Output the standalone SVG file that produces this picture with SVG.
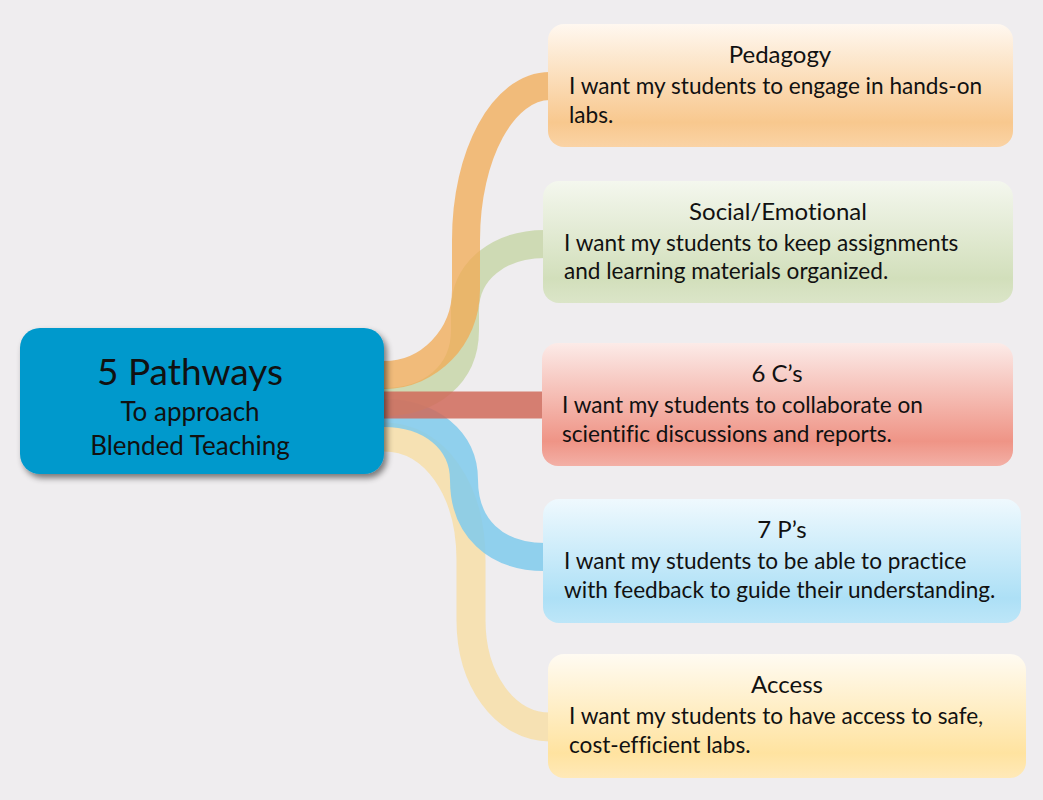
<svg xmlns="http://www.w3.org/2000/svg" width="1043" height="800" viewBox="0 0 1043 800">
<defs>
<style>
.band{fill:none;stroke-linecap:butt}
.t{font-family:Lato,"Liberation Sans",sans-serif;fill:#111;font-variant-ligatures:none}
.title{font-size:24px;text-anchor:middle}
.body{font-size:22.6px}
</style>
<linearGradient id="gO" x1="0" y1="0" x2="0" y2="1"><stop offset="0" stop-color="#fff8f0"/><stop offset="0.8" stop-color="#f8c88e"/><stop offset="1" stop-color="#fad3a5"/></linearGradient>
<linearGradient id="gG" x1="0" y1="0" x2="0" y2="1"><stop offset="0" stop-color="#f4f7ee"/><stop offset="0.8" stop-color="#d2dfbb"/><stop offset="1" stop-color="#dbe5c8"/></linearGradient>
<linearGradient id="gR" x1="0" y1="0" x2="0" y2="1"><stop offset="0" stop-color="#fcebe8"/><stop offset="0.8" stop-color="#ef9486"/><stop offset="1" stop-color="#f3b0a6"/></linearGradient>
<linearGradient id="gB" x1="0" y1="0" x2="0" y2="1"><stop offset="0" stop-color="#eff9fe"/><stop offset="0.8" stop-color="#ade0f6"/><stop offset="1" stop-color="#bde6f8"/></linearGradient>
<linearGradient id="gY" x1="0" y1="0" x2="0" y2="1"><stop offset="0" stop-color="#fffbf2"/><stop offset="0.8" stop-color="#ffe3a0"/><stop offset="1" stop-color="#ffe9b8"/></linearGradient>
<filter id="sh" x="-10%" y="-10%" width="125%" height="130%"><feGaussianBlur in="SourceAlpha" stdDeviation="3"/><feOffset dx="3" dy="4" result="b"/><feComponentTransfer><feFuncA type="linear" slope="0.5"/></feComponentTransfer><feMerge><feMergeNode/><feMergeNode in="SourceGraphic"/></feMerge></filter>
</defs>
<rect width="1043" height="800" fill="#efedef"/>
<g id="connectors">
<path class="band" d="M384 437 C435 437 471 490 471 560 L471 620 C471 680 505 727 550 727" stroke="#fad98a" stroke-opacity="0.6" stroke-width="29"/>
<path class="band" d="M384 413 C430 413 464 440 464 480 C464 527 495 557 545 557" stroke="#7fcaec" stroke-opacity="0.85" stroke-width="28"/>
<path class="band" d="M384 402 C430 402 465 375 465 330 L465 310 C465 270 500 244 545 244" stroke="#c3d3a0" stroke-opacity="0.75" stroke-width="28"/>
<path class="band" d="M384 375 C429 375 466 337 466 290 L466 240 C466 155 503 86 550 86" stroke="#f2a953" stroke-opacity="0.75" stroke-width="28"/>
<path class="band" d="M384 405 L544 405" stroke="#d06a5a" stroke-opacity="0.85" stroke-width="27"/>
</g>
<g id="center">
<rect x="20" y="328" width="364" height="146" rx="20" fill="#0099cc" filter="url(#sh)"/>
<text class="t" x="190" y="385" font-size="37" text-anchor="middle">5 Pathways</text>
<text class="t" x="190" y="421" font-size="26" text-anchor="middle">To approach</text>
<text class="t" x="190" y="455" font-size="26" text-anchor="middle">Blended Teaching</text>
</g>
<g id="pedagogy">
<rect x="548" y="24" width="465" height="123" rx="16" fill="url(#gO)"/>
<text class="t title" x="780" y="63">Pedagogy</text>
<text class="t body" x="569" y="94">I want my students to engage in hands-on</text>
<text class="t body" x="569" y="123">labs.</text>
</g>
<g id="social">
<rect x="543" y="181" width="470" height="122" rx="16" fill="url(#gG)"/>
<text class="t title" x="778" y="220">Social/Emotional</text>
<text class="t body" x="564" y="251">I want my students to keep assignments</text>
<text class="t body" x="564" y="279">and learning materials organized.</text>
</g>
<g id="sixcs">
<rect x="542" y="343" width="471" height="123" rx="16" fill="url(#gR)"/>
<text class="t title" x="777" y="382">6 C’s</text>
<text class="t body" x="562" y="413">I want my students to collaborate on</text>
<text class="t body" x="562" y="442">scientific discussions and reports.</text>
</g>
<g id="sevenps">
<rect x="543" y="499" width="478" height="124" rx="16" fill="url(#gB)"/>
<text class="t title" x="782" y="538">7 P’s</text>
<text class="t body" x="564" y="569">I want my students to be able to practice</text>
<text class="t body" x="564" y="598">with feedback to guide their understanding.</text>
</g>
<g id="access">
<rect x="548" y="654" width="478" height="124" rx="16" fill="url(#gY)"/>
<text class="t title" x="787" y="693">Access</text>
<text class="t body" x="569" y="724">I want my students to have access to safe,</text>
<text class="t body" x="569" y="753">cost-efficient labs.</text>
</g>
</svg>
